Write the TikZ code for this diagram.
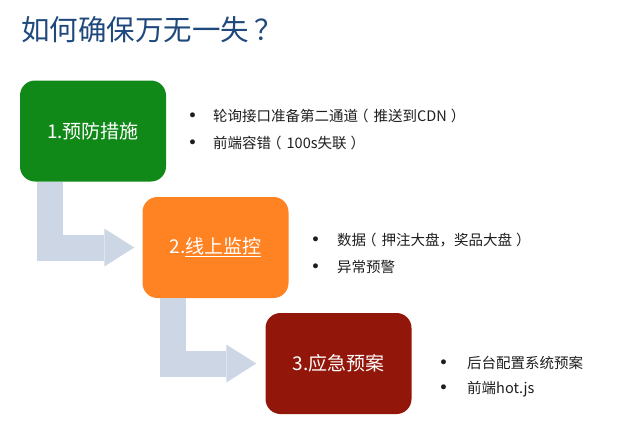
\documentclass[tikz,border=0pt]{standalone}
\usepackage{fontspec}
\setmainfont{Noto Sans CJK SC}
\newfontfamily\dotfont{DejaVu Sans}
\usetikzlibrary{arrows.meta,calc}
\definecolor{titleblue}{RGB}{31,73,125}
\definecolor{boxgreen}{RGB}{17,137,25}
\definecolor{boxorange}{RGB}{255,130,35}
\definecolor{boxred}{RGB}{146,22,10}
\definecolor{arrowgrey}{RGB}{205,214,228}
\definecolor{bodytext}{RGB}{30,30,30}
\newcommand{\lp}{\kern-4pt（\kern5pt}
\newcommand{\rp}{\kern4pt）}
\begin{document}
\begin{tikzpicture}[x=1pt,y=-1pt,
  stagebox/.style={rounded corners=15pt,minimum width=146pt,minimum height=101pt,
    text=white,inner sep=0pt,font=\fontsize{19}{22}\selectfont},
  bulletdot/.style={anchor=base west,inner sep=0pt,text=bodytext,font=\dotfont\bfseries\fontsize{14}{16}\selectfont},
  bullettext/.style={anchor=base west,inner sep=0pt,text=bodytext,font=\fontsize{14.5}{17}\selectfont},
  elbowarrow/.style={draw=arrowgrey,line width=26pt,line cap=butt,line join=miter,
    -{Triangle[width=38pt,length=30pt,line width=0pt]}}]
\useasboundingbox (0,0) rectangle (640,434);
\node[anchor=west,inner sep=0pt,text=titleblue,font=\fontsize{28.5}{32}\selectfont] (title) at (21,30) {如何确保万无一失\kern5pt？};

\node[stagebox,fill=boxgreen] (b1) at (93,131) {1.预防措施};
\node[stagebox,fill=boxorange] (b2) at (215.5,247.5) {2.\underline{线上监控}};
\node[stagebox,fill=boxred] (b3) at (338.5,363.5) {3.应急预案};

\draw[elbowarrow] ($(b1.south west)+(30,0)$) |- ($(b2.west)+(-8,0)$);
\draw[elbowarrow] ($(b2.south west)+(31,0)$) |- ($(b3.west)+(-9,0)$);

\node[bulletdot] (d11) at (188,120) {•};
\node[bullettext] (t11) at (213,121) {轮询接口准备第二通道\lp 推送到CDN\rp};
\node[bulletdot] (d12) at (188,147) {•};
\node[bullettext] (t12) at (213,148) {前端容错\lp 100s失联\rp};

\node[bulletdot] (d21) at (311,244) {•};
\node[bullettext] (t21) at (337,245) {数据\lp 押注大盘，奖品大盘\rp};
\node[bulletdot] (d22) at (311,271) {•};
\node[bullettext] (t22) at (337,272) {异常预警};

\node[bulletdot] (d31) at (439,367) {•};
\node[bullettext] (t31) at (467,368) {后台配置系统预案};
\node[bulletdot] (d32) at (439,392) {•};
\node[bullettext] (t32) at (467,393) {前端hot.js};
\end{tikzpicture}
\end{document}
